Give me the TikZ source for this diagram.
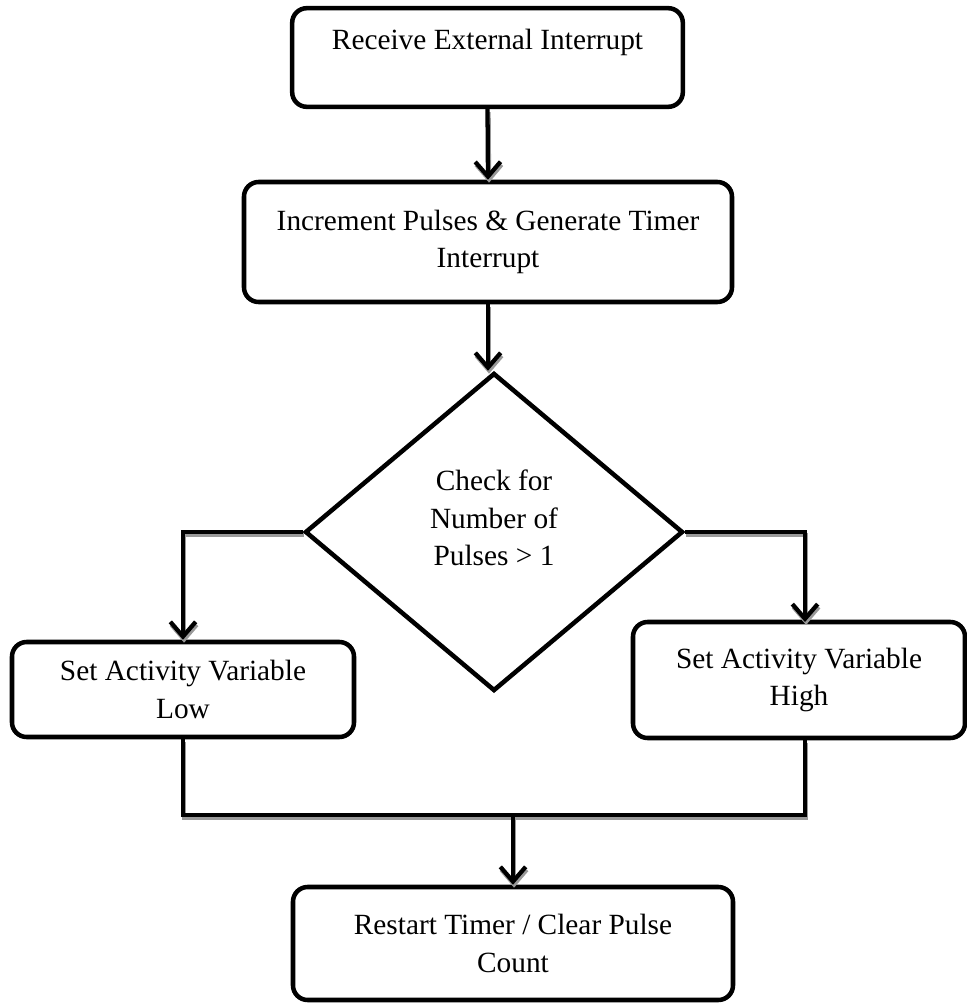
\documentclass[tikz,border=0pt]{standalone}
\usepackage{fontspec}
\setmainfont{Liberation Serif}
\usetikzlibrary{shapes.geometric,arrows.meta}
\begin{document}
\begin{tikzpicture}[x=0.75pt,y=-0.75pt,
  lbl/.style={align=center, inner sep=0pt, font=\fontsize{22pt}{28pt}\selectfont},
  box/.style={lbl, draw=black, line width=3.4pt, rounded corners=11pt},
  conn/.style={line width=3.2pt, preaction={draw=black!40, line width=3.2pt, transform canvas={shift={(0.8pt,-2.2pt)}}}},
  arr/.style={conn, -{Straight Barb[length=11pt,width=19pt]}},
]
\useasboundingbox (0,0) rectangle (967,1003);

\node[box, minimum width=293pt, minimum height=74pt] (b1) at (487.5,57.5) {Receive External Interrupt\\ ~};
\node[box, minimum width=366pt, minimum height=90pt] (b2) at (488,242) {Increment Pulses \& Generate Timer\\Interrupt};
\node[diamond, draw=black, line width=3.4pt, inner sep=0pt, aspect=1.19, minimum width=283.5pt, minimum height=238.5pt] (d) at (494,532) {};
\node[lbl] (dt) at (494,518) {Check for\\Number of\\Pulses > 1};
\node[box, minimum width=256.5pt, minimum height=71.25pt] (lb) at (183,689.5) {Set Activity Variable\\Low};
\node[box, minimum width=249pt, minimum height=87pt] (rb) at (799,680) {Set Activity Variable\\High};
\node[box, minimum width=330pt, minimum height=84.75pt] (bb) at (513,943.5) {Restart Timer / Clear Pulse\\Count};

\coordinate (rt) at (805,622);
\coordinate (jm) at (513,815);
\coordinate (jr) at (805,815);

\draw[arr] (b1.south) -- (b2.north);
\draw[arr] (b2.south) -- (b2.south |- d.north);
\draw[arr] (d.west) -- (lb.north |- d.west) -- (lb.north);
\draw[arr] (d.east) -- (rt |- d.east) -- (rt);
\draw[conn] (lb.south) -- (lb.south |- jm) -- (jr) -- (jr |- rb.south);
\draw[arr] (jm) -- (bb.north);
\end{tikzpicture}
\end{document}
